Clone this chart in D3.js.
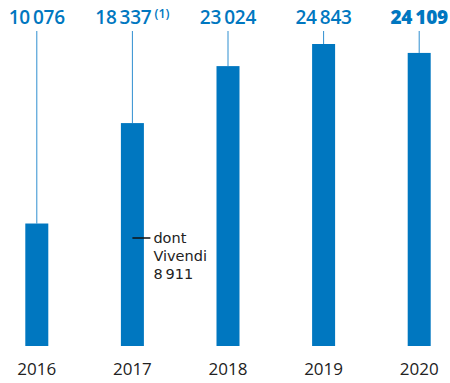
<!DOCTYPE html>
<html><head><meta charset="utf-8">
<script src="https://cdn.jsdelivr.net/npm/d3@7"></script>
<style>body{margin:0;background:#fff}svg{display:block}</style>
</head><body>
<script>
const years = ["2016","2017","2018","2019","2020"];
const values = [10076, 18337, 23024, 24843, 24109];
const valueLabels = ["10\u2009076","18\u2009337","23\u2009024","24\u2009843","24\u2009109"];
const labelNotes = ["","(1)","","",""];
const boldFlags = [false,false,false,false,true];
const vivendiLines = ["dont","Vivendi","8\u2009911"];

const W=450,H=383;
const svg=d3.select("body").append("svg").attr("width",W).attr("height",H);
const x=d3.scaleBand().domain(years).range([-11,467]).paddingInner(0.76).paddingOuter(0.38);
const y=d3.scaleLinear().domain([0,24843]).range([346,44]);
const blue="#0077c0";
const bw=23;
const cx=d=>x(d)+x.bandwidth()/2;

// leader lines
svg.selectAll("line.lead").data(years).join("line")
  .attr("x1",d=>cx(d)).attr("x2",d=>cx(d))
  .attr("y1",31).attr("y2",(d,i)=>y(values[i]))
  .attr("stroke","#2f8fd0").attr("stroke-width",1);

// bars
svg.selectAll("rect.bar").data(years).join("rect")
  .attr("x",d=>cx(d)-bw/2).attr("width",bw)
  .attr("y",(d,i)=>y(values[i])).attr("height",(d,i)=>y(0)-y(values[i]))
  .attr("fill",blue);

// value labels (number + optional superscript note), centered as a group
years.forEach((yr,i)=>{
  const g=svg.append("g");
  const t=g.append("text").attr("x",0).attr("y",24)
    .attr("font-family","'Open Sans', sans-serif")
    .attr("font-size",19).attr("fill",blue)
    .attr("font-weight",boldFlags[i]?800:600)
    .attr("letter-spacing",-0.2)
    .text(valueLabels[i]);
  let w=t.node().getComputedTextLength();
  if(labelNotes[i]){
    const n=g.append("text").attr("x",w+3).attr("y",18)
      .attr("font-family","'Open Sans', sans-serif")
      .attr("font-size",12.5).attr("font-weight",600).attr("fill",blue)
      .text(labelNotes[i]);
    w=w+3+n.node().getComputedTextLength();
  }
  g.attr("transform",`translate(${cx(yr)-w/2},0)`);
});

// year axis labels
svg.selectAll("text.yr").data(years).join("text")
  .attr("x",d=>cx(d)).attr("y",375).attr("text-anchor","middle")
  .attr("font-family","'Open Sans', sans-serif").attr("font-size",17)
  .attr("fill","#222").text(d=>d);

// Vivendi note
const vx=cx("2017");
svg.append("line").attr("x1",vx).attr("x2",vx+18).attr("y1",238).attr("y2",238)
  .attr("stroke","#111").attr("stroke-width",1.5);
svg.selectAll("text.viv").data(vivendiLines).join("text")
  .attr("font-family","'DejaVu Sans', sans-serif").attr("font-size",14.5)
  .attr("fill","#222")
  .attr("x",vx+21).attr("y",(d,i)=>243+i*18).text(d=>d);
</script>
</body></html>
